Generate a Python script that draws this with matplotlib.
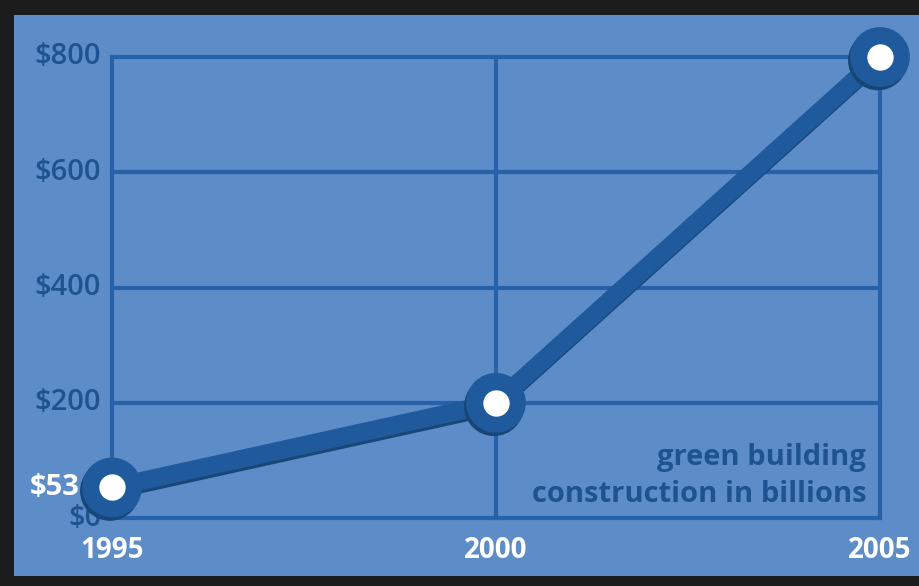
import matplotlib.pyplot as plt
import matplotlib.patches as patches
import matplotlib.patheffects as pe

# green building construction, billions of dollars
years = [1995, 2000, 2005]
values = [53, 200, 800]
y_ticks = [0, 200, 400, 600, 800]
y_labels = ["$0", "$200", "$400", "$600", "$800"]
x_labels = ["1995", "2000", "2005"]

bg = "#5d8dc9"
grid_c = "#2762a8"
line_c = "#1f5a9c"
text_dark = "#1d5391"
frame = "#1c1c1c"

plt.rcParams['font.family'] = ['Open Sans', 'DejaVu Sans']

fig = plt.figure(figsize=(9.2, 5.86), dpi=100)
fig.patch.set_facecolor(frame)
fig.patches.append(patches.Rectangle((14 / 920, 10 / 586), 1, (586 - 25) / 586,
                                     transform=fig.transFigure, facecolor=bg,
                                     edgecolor="none", zorder=-5))

ax = fig.add_axes([112 / 920, 68 / 586, 768 / 920, 461 / 586])
ax.set_zorder(2)
ax.set_facecolor("none")
ax.set_xlim(1995, 2005)
ax.set_ylim(0, 800)
for s in ax.spines.values():
    s.set_visible(False)
ax.set_xticks([])
ax.set_yticks([])

for y in y_ticks:
    ax.axhline(y, color=grid_c, lw=3, zorder=1, clip_on=False)
for x in years:
    ax.axvline(x, color=grid_c, lw=3, zorder=1, clip_on=False)

shadow = [pe.SimpleLineShadow(offset=(-1.5, -2.5), shadow_color="#184676", alpha=1), pe.Normal()]
ax.plot(years, values, color=line_c, lw=13, solid_capstyle="round", zorder=3,
        path_effects=shadow, clip_on=False)
ax.plot(years, values, "o", color=line_c, ms=43, mew=0, zorder=4, clip_on=False,
        path_effects=[pe.withSimplePatchShadow(offset=(-1.5, -2.5), shadow_rgbFace="#184676", alpha=1)])
ax.plot(years, values, "o", color="white", ms=19, mew=0, zorder=5, clip_on=False)

for y, lab in zip(y_ticks, y_labels):
    ax.text(-0.014, y, lab, transform=ax.get_yaxis_transform(), ha="right",
            va="center", fontsize=21, color=text_dark, fontweight="semibold",
            zorder=2)

ax.text(1995 - 0.42, values[0], "$" + str(values[0]), ha="right", va="center",
        fontsize=21, color="white", fontweight="bold", zorder=6)

for x, lab in zip(years, x_labels):
    ax.text(x, -0.07, lab, transform=ax.get_xaxis_transform(), ha="center",
            va="center", fontsize=20, color="white", fontweight="bold")

ax.text(0.982, 0.02, "green building\nconstruction in billions", transform=ax.transAxes,
        ha="right", va="bottom", fontsize=21, color=text_dark, fontweight="bold",
        linespacing=1.35, zorder=2)

fig.savefig("out.png", dpi=100, facecolor=fig.get_facecolor())
